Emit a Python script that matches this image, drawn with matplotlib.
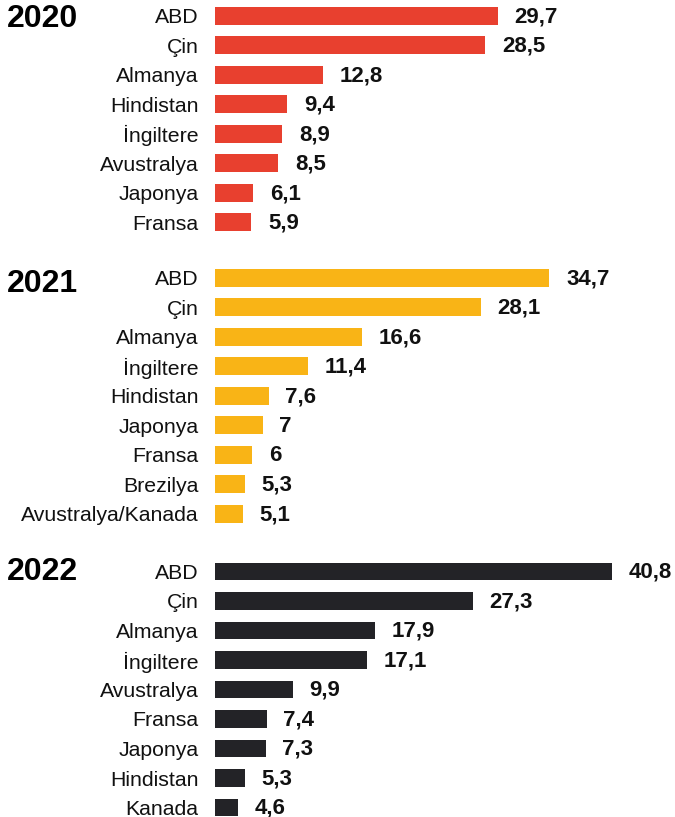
import matplotlib
matplotlib.use('Agg')
import matplotlib.pyplot as plt
from matplotlib import transforms

plt.rcParams['font.family'] = ['Liberation Sans', 'DejaVu Sans']

# veriler (milyar dolar)
years = ['2020', '2021', '2022']
countries_2020 = ['ABD', 'Çin', 'Almanya', 'Hindistan', 'İngiltere', 'Avustralya', 'Japonya', 'Fransa']
values_2020 = [29.7, 28.5, 12.8, 9.4, 8.9, 8.5, 6.1, 5.9]
countries_2021 = ['ABD', 'Çin', 'Almanya', 'İngiltere', 'Hindistan', 'Japonya', 'Fransa', 'Brezilya', 'Avustralya/Kanada']
values_2021 = [34.7, 28.1, 16.6, 11.4, 7.6, 7, 6, 5.3, 5.1]
countries_2022 = ['ABD', 'Çin', 'Almanya', 'İngiltere', 'Avustralya', 'Fransa', 'Japonya', 'Hindistan', 'Kanada']
values_2022 = [40.8, 27.3, 17.9, 17.1, 9.9, 7.4, 7.3, 5.3, 4.6]
colors = ['#E8402F', '#F9B416', '#232327']

W, H = 675, 817
fig = plt.figure(figsize=(W / 100, H / 100), dpi=100)

pitch = 29.5        # satır aralığı (px)
first_rows = [15.8, 277.8, 571.5]
title_shift = [0.1, 0.2, 0.03]
x0 = 215            # çubukların başladığı x (px)
px_per_unit = 10.35
x_start = 2.4       # eksen sıfırdan başlamıyor

groups = [(countries_2020, values_2020), (countries_2021, values_2021), (countries_2022, values_2022)]

for k, (names, vals) in enumerate(groups):
    n = len(names)
    top = first_rows[k] - pitch / 2
    ax = fig.add_axes([x0 / W, 1 - (top + n * pitch) / H, (W - x0) / W, n * pitch / H])
    ax.barh(range(n), vals, height=0.6, color=colors[k])
    ax.set_xlim(x_start, x_start + (W - x0) / px_per_unit)
    ax.set_ylim(n - 0.5, -0.5)
    for s in ax.spines.values():
        s.set_visible(False)
    ax.set_xticks([])
    ax.set_yticks(range(n))
    ax.set_yticklabels(names, fontsize=15.3, color='#111111')
    ax.tick_params(axis='y', length=0, pad=12)
    for i, v in enumerate(vals):
        lab = f'{v:g}'.replace('.', ',')
        ax.annotate(lab, (v, i), xytext=(12, -0.6), textcoords='offset points',
                    ha='left', va='center', fontsize=16, fontweight='bold',
                    color='#111111', annotation_clip=False)
    tr = transforms.blended_transform_factory(fig.transFigure, ax.transData)
    ax.text(7 / W, title_shift[k], years[k], transform=tr, ha='left', va='center',
            fontsize=23, fontweight='bold', color='#000000')

fig.savefig('out.png', dpi=100)
